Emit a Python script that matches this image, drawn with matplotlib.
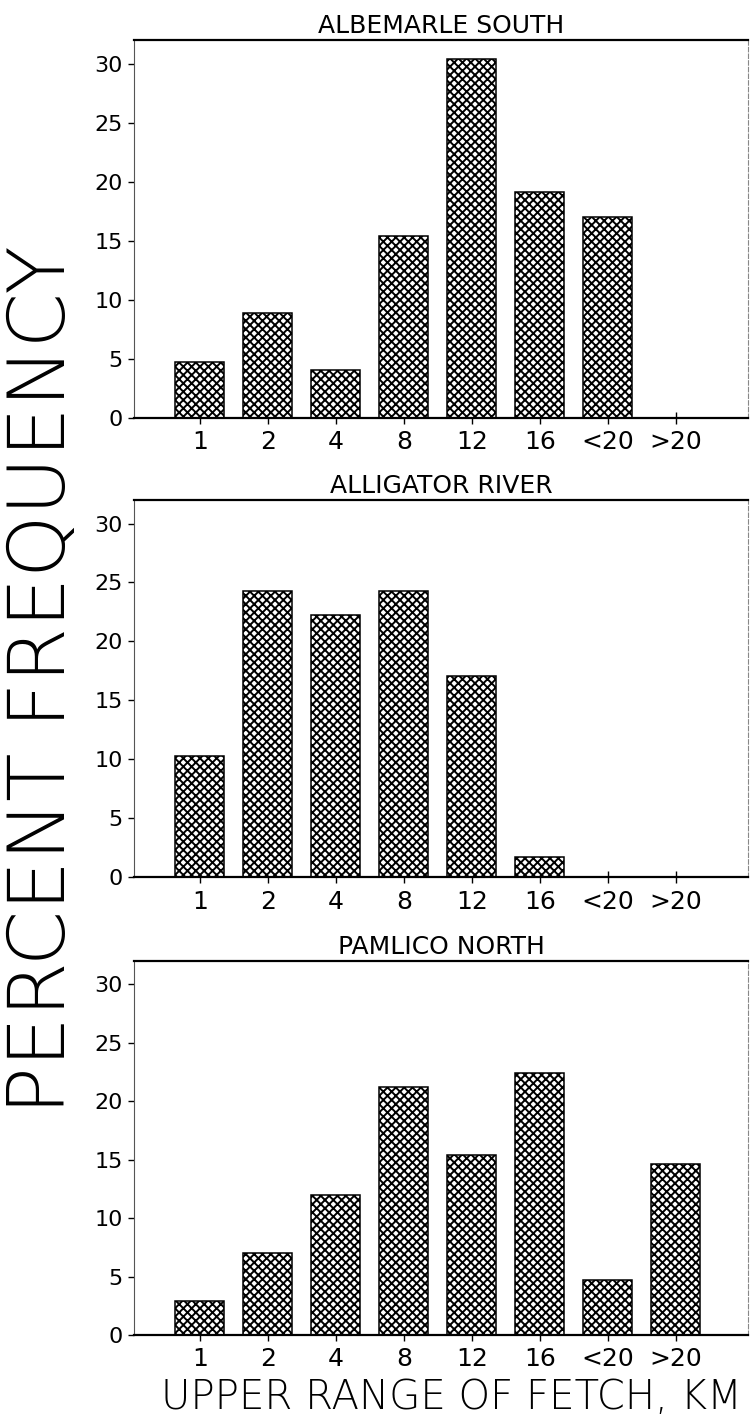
import matplotlib
matplotlib.use("Agg")
import matplotlib.pyplot as plt
import numpy as np

# fetch classes (upper range, km)
fetch_labels = ["1", "2", "4", "8", "12", "16", "<20", ">20"]

# percent frequency for each station
albemarle_south = [4.7, 8.9, 4.1, 15.4, 30.4, 19.1, 17.0, 0.0]
alligator_river = [10.3, 24.3, 22.2, 24.3, 17.1, 1.7, 0.0, 0.0]
pamlico_north = [2.9, 7.0, 12.0, 21.2, 15.4, 22.4, 4.7, 14.6]

titles = ["ALBEMARLE SOUTH", "ALLIGATOR RIVER", "PAMLICO NORTH"]
series = [albemarle_south, alligator_river, pamlico_north]
yticks = [0, 5, 10, 15, 20, 25, 30]

plt.rcParams["hatch.linewidth"] = 1.4
plt.rcParams["hatch.color"] = "black"
plt.rcParams["font.family"] = ["DejaVu Sans"]

fig = plt.figure(figsize=(7.54, 14.27), dpi=100)

W, H = 754.0, 1427.0
left, right = 134, 748
# top / bottom (zero line) of each panel in pixels
rows = [(40, 418), (500, 877), (961, 1335)]

x = np.arange(len(fetch_labels))
for (top, bot), title, vals in zip(rows, titles, series):
    ax = fig.add_axes([left / W, 1 - bot / H, (right - left) / W, (bot - top) / H])
    ax.bar(x, vals, width=0.72, color="white", edgecolor="black",
           linewidth=1.1, hatch="xxxx", zorder=2)
    ax.set_xlim(-0.97, 7.0 + 1.06)
    ax.set_ylim(0, 32)
    ax.set_yticks(yticks)
    ax.set_yticklabels([str(v) for v in yticks], fontsize=16)
    ax.set_xticks(x)
    ax.set_xticklabels(fetch_labels, fontsize=18)
    ax.tick_params(axis="y", direction="out", length=4, width=1.0, pad=4)
    ax.tick_params(axis="x", direction="inout", length=8, width=1.0, pad=5)
    ax.spines["top"].set_linewidth(1.6)
    ax.spines["bottom"].set_linewidth(1.6)
    ax.spines["left"].set_linewidth(0.8)
    ax.spines["left"].set_color("#555555")
    ax.spines["right"].set_linewidth(0.8)
    ax.spines["right"].set_color("#888888")
    ax.spines["right"].set_linestyle((0, (4, 2)))
    ax.set_title(title, fontsize=18, pad=5)

fig.text(43 / W, 1 - 680 / H, "PERCENT FREQUENCY", rotation=90,
         ha="center", va="center", fontsize=57, fontweight="light")
fig.text(451 / W, 1 - 1398 / H, "UPPER RANGE OF FETCH, KM",
         ha="center", va="center", fontsize=29, fontweight="light")

fig.savefig("out.png", dpi=100, facecolor="white")
